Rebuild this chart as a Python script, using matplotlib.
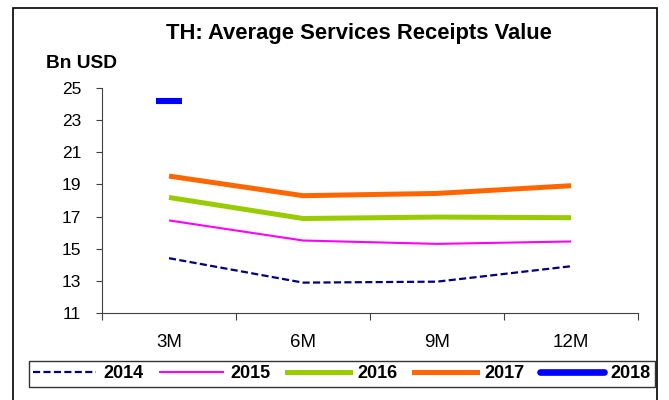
import matplotlib.pyplot as plt
from matplotlib.lines import Line2D
from matplotlib.patches import Rectangle

plt.rcParams['font.family'] = ['Liberation Sans', 'DejaVu Sans']

periods = ["3M", "6M", "9M", "12M"]
years = ["2014", "2015", "2016", "2017", "2018"]
vals_2014 = [14.41, 12.89, 12.95, 13.91]
vals_2015 = [16.76, 15.51, 15.30, 15.45]
vals_2016 = [18.19, 16.88, 16.97, 16.93]
vals_2017 = [19.52, 18.30, 18.44, 18.92]
vals_2018 = [24.2]
yticks = [11, 13, 15, 17, 19, 21, 23, 25]

fig = plt.figure(figsize=(6.69, 4.0), dpi=100)
fig.patches.append(Rectangle((13 / 669, -0.01), 644 / 669, 1.0 - 8 / 400 + 0.01,
                             transform=fig.transFigure, fill=False,
                             edgecolor="black", linewidth=1.2))

ax = fig.add_axes([102 / 669, 87 / 400, 536 / 669, 225 / 400])

x = list(range(len(periods)))
styles = [
    dict(color="#000080", lw=1.6, ls=(0, (3.2, 1.5))),
    dict(color="#FF00FF", lw=1.5, ls="-"),
    dict(color="#99CC00", lw=3.6, ls="-"),
    dict(color="#FF6600", lw=3.6, ls="-"),
]
for vals, st in zip([vals_2014, vals_2015, vals_2016, vals_2017], styles):
    ax.plot(x[:len(vals)], vals, color=st["color"], lw=st["lw"], ls=st["ls"],
            solid_capstyle="butt")
ax.plot(x[:len(vals_2018)], vals_2018, ls="none", marker="_", markersize=19,
        markeredgewidth=4.4, color="#0000FF")

ax.set_xlim(-0.5, 3.5)
ax.set_ylim(11, 25)
ax.set_yticks(yticks)
ax.set_xticks([i - 0.5 for i in range(len(periods) + 1)])
ax.set_xticklabels([])
ax.set_xticks(x, minor=True)
ax.set_xticklabels(periods, minor=True)
ax.tick_params(axis="x", which="minor", length=0, pad=15, labelsize=13.5)
ax.tick_params(axis="x", which="major", length=5, direction="out",
               color="#404040")
ax.tick_params(axis="y", length=4, direction="out", labelsize=12.5, pad=11,
               color="#404040")
for s in ["top", "right"]:
    ax.spines[s].set_visible(False)
for s in ["left", "bottom"]:
    ax.spines[s].set_color("#404040")

fig.text(359 / 669, 1 - 34 / 400, "TH: Average Services Receipts Value",
         ha="center", va="center", fontsize=15.8, fontweight="bold")
fig.text(46 / 669, 1 - 64 / 400, "Bn USD", ha="left", va="center",
         fontsize=13.8, fontweight="bold")

handles = [Line2D([], [], color=st["color"], lw=st["lw"], ls=st["ls"])
           for st in styles]
handles.append(Line2D([], [], color="#0000FF", lw=4.8, solid_capstyle="round"))
leg = fig.legend(handles, years, ncol=5, loc="center",
                 bbox_to_anchor=(342 / 669, 1 - 374 / 400), frameon=True,
                 fancybox=False, edgecolor="black", handlelength=3.5,
                 handletextpad=0.4, columnspacing=0.9, borderpad=0.25,
                 borderaxespad=0, prop=dict(size=13, weight="bold"))
leg.get_frame().set_linewidth(1.0)

fig.savefig("out.png", dpi=100)
